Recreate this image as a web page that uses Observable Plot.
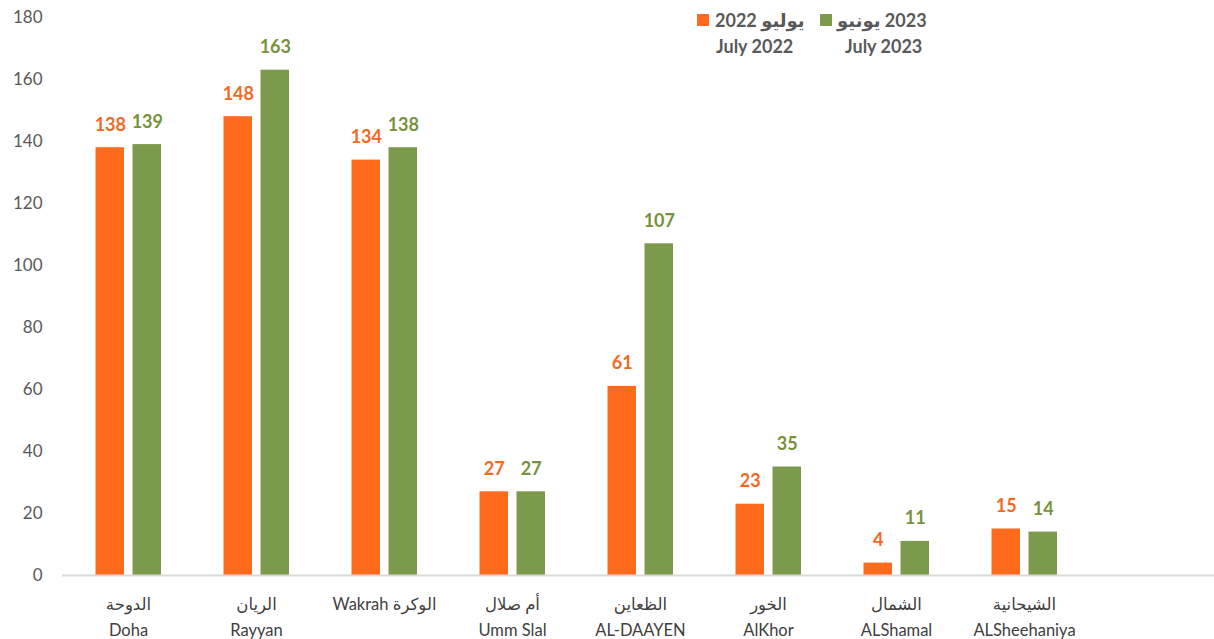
<!DOCTYPE html>
<html>
<head>
<meta charset="utf-8">
<script src="https://cdn.jsdelivr.net/npm/d3@7"></script>
<script src="https://cdn.jsdelivr.net/npm/@observablehq/plot@0.6"></script>
<style>
  html, body { margin: 0; padding: 0; background: #fff; }
  #wrap { position: relative; width: 1214px; height: 639px; font-family: Lato, "DejaVu Sans", sans-serif; }
  .lg { position: absolute; font-weight: bold; font-size: 18px; color: #595959; white-space: nowrap; line-height: 1; }
  .sw { position: absolute; width: 12px; height: 12px; }
</style>
</head>
<body>
<div id="wrap"></div>
<script>
const categories = ["Doha", "Rayyan", "Wakrah", "Umm Slal", "AL-DAAYEN", "AlKhor", "ALShamal", "ALSheehaniya"];
const categoriesAr = ["الدوحة", "الريان", "الوكرة", "أم صلال", "الظعاين", "الخور", "الشمال", "الشيحانية"];
const july2022 = [138, 148, 134, 27, 61, 23, 4, 15];
const july2023 = [139, 163, 138, 27, 107, 35, 11, 14];
const yTicks = [0, 20, 40, 60, 80, 100, 120, 140, 160, 180];
const seriesNames = ["2022 يوليو", "يونيو\u200E 2023"];
const seriesNamesEn = ["July 2022", "July 2023"];

const orangeBar = "#FF6B1C", orangeText = "#F5691E";
const greenBar = "#7B9A4B", greenText = "#76923C";

const d22 = categories.map((c, i) => ({cat: c, v: july2022[i]}));
const d23 = categories.map((c, i) => ({cat: c, v: july2023[i]}));
const labels = categories.map((c, i) => ({
  cat: c,
  top: c === "Wakrah" ? "Wakrah " + categoriesAr[i] : categoriesAr[i],
  bottom: c === "Wakrah" ? "" : c
}));

const bw = 128.5;
const chart = Plot.plot({
  width: 1214,
  height: 639,
  marginLeft: 62,
  marginRight: 0,
  marginTop: 17,
  marginBottom: 64,
  style: {fontFamily: 'Lato, "DejaVu Sans", sans-serif', fontSize: "17px", color: "#595959", background: "#fff"},
  x: {type: "band", domain: categories, range: [62, 62 + 8 * bw], padding: 0, label: null, axis: null},
  y: {domain: [0, 180], label: null, axis: null},
  marks: [
    Plot.barY(d22, {x: "cat", y: "v", fill: orangeBar, insetLeft: 31.5, insetRight: bw - 60.5}),
    Plot.barY(d23, {x: "cat", y: "v", fill: greenBar, insetLeft: 68.5, insetRight: bw - 97.5}),
    Plot.text(d22, {x: "cat", y: "v", text: d => String(d.v), dx: -18.2, dy: -17, lineAnchor: "bottom", fill: orangeText, fontWeight: "bold", fontSize: 18}),
    Plot.text(d23, {x: "cat", y: "v", text: d => String(d.v), dx: 18.8, dy: -17, lineAnchor: "bottom", fill: greenText, fontWeight: "bold", fontSize: 18}),
    Plot.ruleY([0], {stroke: "#D9D9D9", strokeWidth: 2}),
    Plot.axisY({ticks: yTicks, tickSize: 0, tickPadding: 20, fontSize: 17, fill: "#595959", label: null}),
    Plot.text(labels, {x: "cat", text: "top", frameAnchor: "bottom", dy: 29, lineAnchor: "middle", fill: "#404040", fontSize: 16.5}),
    Plot.text(labels, {x: "cat", text: "bottom", frameAnchor: "bottom", dy: 55, lineAnchor: "middle", fill: "#404040", fontSize: 16.5})
  ]
});

const wrap = document.getElementById("wrap");
wrap.appendChild(chart);

function addLegend(color, name, nameEn, sx, tx1, tx2) {
  const sw = document.createElement("div");
  sw.className = "sw"; sw.style.background = color; sw.style.left = sx + "px"; sw.style.top = "14px";
  wrap.appendChild(sw);
  const t1 = document.createElement("div");
  t1.className = "lg"; t1.textContent = name; t1.style.left = tx1 + "px"; t1.style.top = "11px";
  wrap.appendChild(t1);
  const t2 = document.createElement("div");
  t2.className = "lg"; t2.textContent = nameEn; t2.style.left = tx2 + "px"; t2.style.top = "37px";
  wrap.appendChild(t2);
}
addLegend(orangeBar, seriesNames[0], seriesNamesEn[0], 697, 715, 716);
addLegend(greenBar, seriesNames[1], seriesNamesEn[1], 820, 837, 845);
</script>
</body>
</html>
